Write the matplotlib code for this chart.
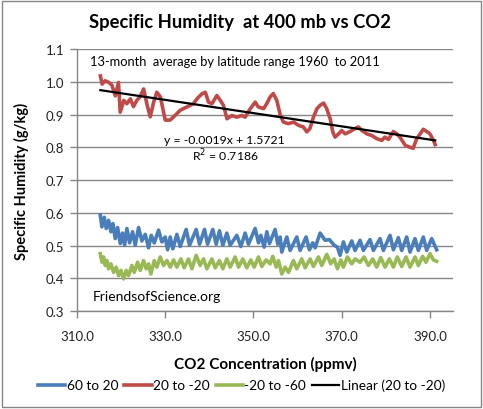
import numpy as np
import matplotlib.pyplot as plt
from matplotlib.patches import Rectangle

plt.rcParams['font.family'] = ['Lato', 'DejaVu Sans']

# 20 to -20 (red)
red_co2 = [315.3, 315.7, 316.4, 317.2, 317.9, 318.7, 319.4, 319.8, 320.6, 321.3,
           322.1, 322.8, 323.6, 324.3, 325.1, 325.9, 326.6, 327.4, 328.1, 328.9,
           330.0, 331.1, 332.3, 333.4, 334.9, 336.4, 337.2, 338.3, 339.1, 339.8,
           340.6, 341.7, 342.5, 343.2, 344.0, 345.1, 346.2, 347.4, 348.1, 349.3,
           350.4, 351.1, 352.3, 353.0, 353.8, 354.5, 355.3, 356.1, 356.8, 357.9,
           359.1, 360.2, 361.3, 362.1, 362.8, 363.6, 364.4, 365.1, 365.9, 366.6,
           367.4, 368.0, 368.5, 369.3, 370.0, 370.8, 371.9, 373.0, 373.8, 374.6,
           375.7, 376.8, 378.0, 379.1, 379.8, 380.6, 381.7, 382.5, 383.2, 384.4,
           385.5, 386.2, 387.0, 387.8, 388.5, 389.3, 390.0, 390.8, 391.2]
red_hum = [1.018, 0.993, 1.003, 0.998, 0.990, 0.957, 0.998, 0.907, 0.943, 0.933,
           0.948, 0.924, 0.944, 0.954, 0.978, 0.929, 0.893, 0.939, 0.968, 0.954,
           0.883, 0.883, 0.898, 0.913, 0.923, 0.933, 0.948, 0.963, 0.968, 0.938,
           0.933, 0.958, 0.943, 0.928, 0.887, 0.897, 0.892, 0.897, 0.892, 0.918,
           0.938, 0.923, 0.918, 0.933, 0.954, 0.964, 0.943, 0.897, 0.877, 0.872,
           0.877, 0.867, 0.862, 0.847, 0.857, 0.892, 0.918, 0.928, 0.935, 0.918,
           0.887, 0.846, 0.831, 0.841, 0.851, 0.841, 0.848, 0.857, 0.862, 0.851,
           0.841, 0.836, 0.826, 0.821, 0.831, 0.824, 0.848, 0.841, 0.831, 0.806,
           0.800, 0.797, 0.826, 0.841, 0.855, 0.848, 0.841, 0.821, 0.808]

# 60 to 20 (blue)
blue_co2 = [315.28, 315.65, 316.18, 316.63, 317.16, 317.69, 318.14, 318.67, 319.2, 319.81,
            320.33, 320.79, 321.32, 321.92, 322.6, 323.2, 323.96, 324.71, 325.47, 326.22,
            326.83, 327.51, 328.49, 329.24, 330.0, 330.53, 331.13, 331.73, 332.64, 333.4,
            334.75, 335.51, 337.02, 337.77, 338.91, 339.59, 340.79, 341.55, 342.3, 343.06,
            343.97, 344.72, 346.23, 347.14, 348.12, 348.87, 350.38, 351.14, 351.67, 352.42,
            353.03, 353.63, 354.91, 355.52, 356.05, 356.42, 357.56, 358.31, 359.82, 360.58,
            361.93, 362.69, 363.44, 363.97, 365.11, 366.24, 367.22, 368.28, 369.03, 369.64,
            370.39, 371.15, 372.28, 373.03, 374.17, 374.92, 376.43, 377.19, 378.69, 379.45,
            380.96, 381.72, 382.85, 383.6, 384.74, 385.49, 386.62, 387.38, 388.51, 389.27,
            390.4, 391.53]
blue_hum = [0.593, 0.557, 0.586, 0.552, 0.577, 0.542, 0.567, 0.521, 0.555, 0.506,
            0.538, 0.501, 0.552, 0.508, 0.542, 0.501, 0.555, 0.514, 0.534, 0.493,
            0.531, 0.508, 0.547, 0.511, 0.526, 0.487, 0.526, 0.490, 0.534, 0.497,
            0.549, 0.501, 0.549, 0.504, 0.549, 0.504, 0.549, 0.504, 0.545, 0.501,
            0.538, 0.501, 0.531, 0.497, 0.538, 0.504, 0.552, 0.508, 0.531, 0.495,
            0.542, 0.506, 0.549, 0.504, 0.526, 0.480, 0.526, 0.485, 0.526, 0.485,
            0.526, 0.487, 0.508, 0.493, 0.538, 0.516, 0.518, 0.501, 0.495, 0.470,
            0.511, 0.480, 0.514, 0.485, 0.516, 0.485, 0.518, 0.485, 0.521, 0.485,
            0.531, 0.487, 0.524, 0.485, 0.526, 0.480, 0.521, 0.485, 0.526, 0.485,
            0.521, 0.487]

# -20 to -60 (green)
green_co2 = [315.28, 315.65, 316.03, 316.41, 316.79, 317.16, 317.69, 318.3, 318.9, 319.43,
             319.96, 320.56, 321.16, 321.69, 322.45, 322.98, 323.73, 324.34, 325.09, 325.69,
             326.22, 326.75, 327.51, 328.11, 328.87, 329.62, 330.38, 331.13, 331.89, 332.64,
             333.55, 334.3, 335.28, 336.04, 337.02, 337.93, 338.68, 339.44, 340.57, 341.32,
             342.3, 343.06, 343.97, 344.72, 345.85, 346.61, 347.59, 348.5, 349.4, 350.16,
             351.14, 351.89, 352.87, 353.78, 354.38, 355.14, 355.67, 356.42, 357.18, 357.93,
             359.07, 359.82, 360.95, 361.71, 362.84, 363.6, 364.73, 365.48, 366.62, 367.52,
             368.28, 369.03, 369.79, 370.39, 371.3, 372.28, 373.03, 374.17, 375.07, 376.05,
             377.03, 377.94, 378.85, 379.83, 380.81, 381.72, 382.62, 383.6, 384.58, 385.49,
             386.62, 387.38, 388.36, 389.11, 390.02, 390.78, 391.53]
green_hum = [0.475, 0.449, 0.465, 0.439, 0.454, 0.429, 0.444, 0.418, 0.434, 0.408,
             0.424, 0.398, 0.424, 0.408, 0.439, 0.418, 0.449, 0.424, 0.454, 0.429,
             0.444, 0.413, 0.454, 0.434, 0.465, 0.439, 0.454, 0.434, 0.456, 0.434,
             0.459, 0.432, 0.459, 0.429, 0.470, 0.439, 0.459, 0.429, 0.459, 0.432,
             0.454, 0.429, 0.459, 0.434, 0.465, 0.434, 0.459, 0.432, 0.456, 0.434,
             0.465, 0.436, 0.456, 0.444, 0.467, 0.434, 0.454, 0.413, 0.434, 0.418,
             0.454, 0.429, 0.459, 0.432, 0.459, 0.436, 0.465, 0.439, 0.473, 0.444,
             0.459, 0.429, 0.456, 0.434, 0.465, 0.444, 0.459, 0.449, 0.465, 0.439,
             0.459, 0.434, 0.463, 0.434, 0.459, 0.434, 0.465, 0.436, 0.465, 0.434,
             0.465, 0.439, 0.467, 0.449, 0.475, 0.456, 0.452]

x_ticks = [310, 330, 350, 370, 390]
y_ticks = [0.3, 0.4, 0.5, 0.6, 0.7, 0.8, 0.9, 1.0, 1.1]

fig = plt.figure(figsize=(4.83, 4.10), dpi=100)
ax = fig.add_axes([0.1594, 0.239, 0.7791, 0.639])

ax.plot(blue_co2, blue_hum, color='#4A7EBB', lw=2.6, label='60 to 20', zorder=3)
ax.plot(red_co2, red_hum, color='#BE4B48', lw=2.6, label='20 to -20', zorder=3)
ax.plot(green_co2, green_hum, color='#98B954', lw=2.6, label='-20 to -60', zorder=3)

# Excel-style linear trendline on the 20 to -20 series
k, b = np.polyfit(red_co2, red_hum, 1)
tx = np.array([red_co2[0], red_co2[-1]])
ax.plot(tx, k * tx + b, color='black', lw=1.6, label='Linear (20 to -20)', zorder=4)

ax.set_xlim(310, 395.3)
ax.set_ylim(0.3, 1.1)
ax.set_xticks(x_ticks)
ax.set_xticklabels(['%.1f' % v for v in x_ticks], fontsize=9.5, color='#222222')
ax.set_yticks(y_ticks)
ax.set_yticklabels(['%.1f' % v for v in y_ticks], fontsize=9.5, color='#222222')
ax.tick_params(axis='both', direction='out', length=5, color='#868686', width=1)
ax.tick_params(axis='x', pad=9)
ax.tick_params(axis='y', pad=4)
ax.grid(axis='y', color='#868686', lw=1)
ax.set_axisbelow(True)
for s in ['top', 'right']:
    ax.spines[s].set_visible(False)
for s in ['left', 'bottom']:
    ax.spines[s].set_color('#868686')
    ax.spines[s].set_linewidth(1)

ax.set_xlabel('CO2 Concentration (ppmv)', fontsize=11, fontweight='bold', labelpad=10)
ax.set_ylabel('Specific Humidity (g/kg)', fontsize=10.5, fontweight='bold', labelpad=12)

ax.text(0.035, 0.955, '13-month  average by latitude range 1960  to 2011',
        transform=ax.transAxes, fontsize=9.3, va='center')
ax.text(0.232, 0.655, 'y = -0.0019x + 1.5721', transform=ax.transAxes, fontsize=8.8, va='center')
ax.text(0.305, 0.595, 'R$^2$ = 0.7186', transform=ax.transAxes, fontsize=8.8, va='center')
ax.text(0.042, 0.057, 'FriendsofScience.org', transform=ax.transAxes, fontsize=10, va='center')

fig.text(0.497, 0.945, 'Specific Humidity  at 400 mb vs CO2', ha='center', va='center',
         fontsize=13.2, fontweight='bold')

fig.legend(loc='center', bbox_to_anchor=(0.5, 0.058), ncol=4, frameon=False,
           fontsize=9.8, handlelength=2.0, handletextpad=0.1, columnspacing=0.45)

fig.patches.append(Rectangle((0.004, 0.005), 0.992, 0.99, transform=fig.transFigure,
                             fill=False, edgecolor='#868686', lw=1))

fig.savefig('out.png', dpi=100)
